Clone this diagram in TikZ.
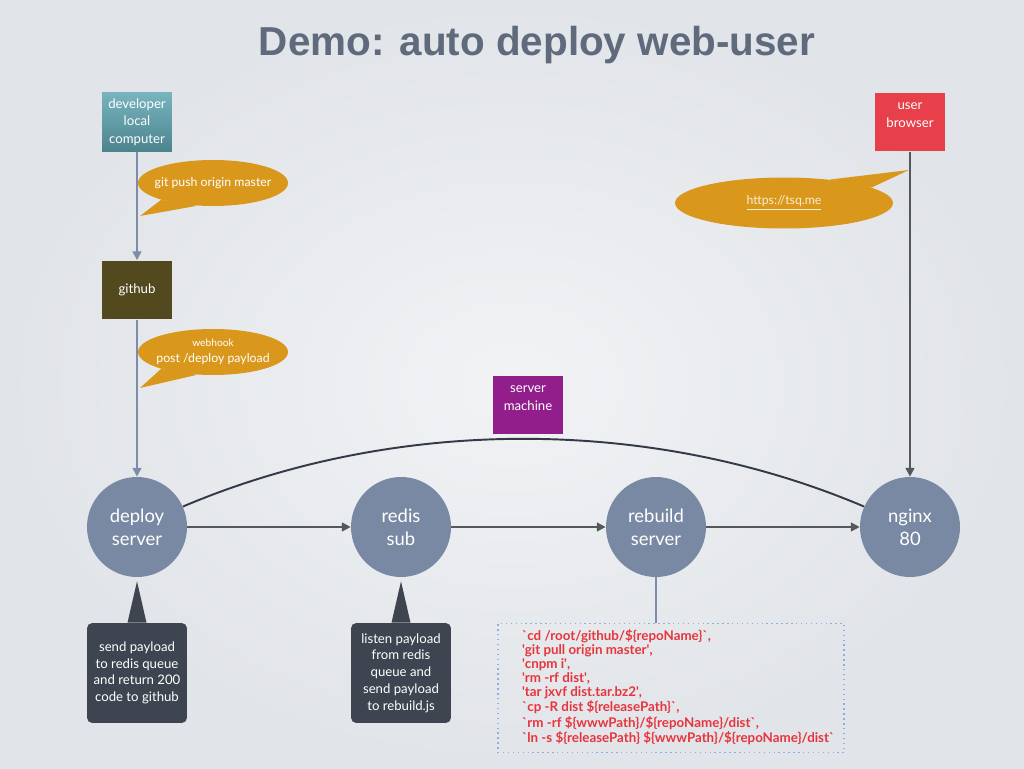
\documentclass[tikz,border=0pt]{standalone}
\usepackage{fontspec}
\setmainfont{Lato}
\newfontfamily\titlefont{Liberation Sans}
\usetikzlibrary{shapes.geometric,arrows.meta,calc}

\definecolor{bgin}{RGB}{241,243,245}
\definecolor{bgout}{RGB}{225,228,232}
\definecolor{titlecol}{RGB}{95,106,125}
\definecolor{devtop}{RGB}{120,180,190}
\definecolor{devbot}{RGB}{76,132,142}
\definecolor{gitcol}{RGB}{82,74,30}
\definecolor{bubblecol}{RGB}{217,152,28}
\definecolor{srvcol}{RGB}{122,137,163}
\definecolor{callcol}{RGB}{62,68,80}
\definecolor{machcol}{RGB}{146,30,140}
\definecolor{usercol}{RGB}{232,64,74}
\definecolor{feedcol}{RGB}{125,140,168}
\definecolor{flowcol}{RGB}{85,88,90}
\definecolor{curvecol}{RGB}{50,58,72}
\definecolor{codecol}{RGB}{232,52,60}
\definecolor{dotcol}{RGB}{140,175,222}
\definecolor{linkcol}{RGB}{250,236,205}

\newcommand{\bq}{\textasciigrave}
\newcommand{\sq}{\textquotesingle}

\tikzset{
	box/.style={minimum width=1.4cm, minimum height=1.18cm, inner sep=0pt, align=center,
		text=white, font=\fontsize{7.5}{10}\selectfont},
	bubble/.style={ellipse, fill=bubblecol, text=white, minimum width=3cm, minimum height=0.92cm,
		inner xsep=-0.4cm, inner ysep=0pt, align=center, font=\fontsize{7}{9}\selectfont},
	srv/.style={circle, fill=srvcol, minimum size=2cm, inner sep=0pt, align=center,
		text=white, font=\fontsize{10.5}{13}\selectfont},
	callout/.style={fill=callcol, rounded corners=3pt, minimum width=2cm, minimum height=2cm,
		inner sep=0pt, align=center, text=white, font=\fontsize{7.5}{9.5}\selectfont},
	feed/.style={-{Triangle[width=5pt,length=5pt]}, line width=1.1pt, draw=feedcol},
	flow/.style={-{Triangle[width=5pt,length=5pt]}, line width=1.1pt, draw=flowcol},
}

\begin{document}
\begin{tikzpicture}[x=0.02cm,y=0.02cm]
	
	% Nền
	\shade[inner color=bgin, outer color=bgout] (0,0) rectangle (1024,768);
	\useasboundingbox (0,0) rectangle (1024,768);
	
	% Tiêu đề
	\node[font=\fontsize{23}{27}\selectfont\titlefont\bfseries, text=titlecol] (title) at (537,723) {Demo: auto deploy web-user};
	
	% Các hộp
	\node[box, top color=devtop, bottom color=devbot] (dev) at (137,646) {developer\\local\\computer};
	\node[box, fill=gitcol] (github) at (137,478) {github};
	\node[box, fill=machcol] (machine) at (528,363) {server\\machine\\[-5pt]\strut};
	\node[box, fill=usercol] (user) at (910,646) {user\\browser\\[-5pt]\strut};
	
	% Các server
	\node[srv] (deploy) at (137,241) {deploy\\server};
	\node[srv] (redis) at (401,241) {redis\\sub};
	\node[srv] (rebuild) at (656,241) {rebuild\\server};
	\node[srv] (nginx) at (910,241) {nginx\\80};
	
	% Bong bóng
	\node[bubble] (push) at (213,585) {git push origin master};
	\coordinate (pushtip) at (140,552);
	\fill[bubblecol] (push.198) -- (pushtip) -- (push.235) -- cycle;
	
	\node[bubble] (hook) at (213,416) {{\fontsize{5.8}{7}\selectfont webhook}\\post /deploy payload};
	\coordinate (hooktip) at (140,380);
	\fill[bubblecol] (hook.198) -- (hooktip) -- (hook.235) -- cycle;
	
	\node[bubble, minimum width=4.36cm, minimum height=1.02cm, text=linkcol] (tsq) at (784,565) {\underline{https://tsq.me}};
	\coordinate (tsqtip) at (909,598);
	\fill[bubblecol] (tsq.27) -- (tsqtip) -- (tsq.10) -- cycle;
	
	% Mũi tên
	\draw[feed] (dev) -- (github);
	\draw[feed] (github) -- (deploy);
	\draw[flow] (user) -- (nginx);
	\draw[flow] (deploy) -- (redis);
	\draw[flow] (redis) -- (rebuild);
	\draw[flow] (rebuild) -- (nginx);
	\draw[curvecol, line width=1.1pt] (deploy.24) to[out=23, in=157, looseness=0.87] (nginx.156);
	
	% Chú thích
	\node[callout] (dcall) at (137,95) {send payload\\to redis queue\\and return 200\\code to github};
	\fill[callcol] ([xshift=-0.19cm]dcall.north) -- ([yshift=-0.08cm]deploy.south) -- ([xshift=0.19cm]dcall.north) -- cycle;
	\node[callout] (rcall) at (401,95) {listen payload\\from redis\\queue and\\send payload\\to rebuild.js};
	\fill[callcol] ([xshift=-0.19cm]rcall.north) -- ([yshift=-0.08cm]redis.south) -- ([xshift=0.19cm]rcall.north) -- cycle;
	
	% Lệnh rebuild
	\node[draw=dotcol, dotted, line width=0.8pt, minimum width=6.92cm, minimum height=2.58cm,
		inner sep=0pt, text=codecol, font=\fontsize{7.6}{7.9}\selectfont\bfseries] (code) at (671,80) {%
		\begin{tabular}{@{\hspace{0.48cm}}p{6.44cm}@{}}
		\bq cd /root/github/\$\{repoName\}\bq,\\
		\sq git pull origin master\sq,\\
		\sq cnpm i\sq,\\
		\sq rm -rf dist\sq,\\
		\sq tar jxvf dist.tar.bz2\sq,\\
		\bq cp -R dist \$\{releasePath\}\bq,\\
		\bq rm -rf \$\{wwwPath\}/\$\{repoName\}/dist\bq,\\
		\bq ln -s \$\{releasePath\} \$\{wwwPath\}/\$\{repoName\}/dist\bq
		\end{tabular}};
	\draw[feedcol, line width=1.1pt] (rebuild.south) -- (rebuild.south |- code.north);
	
\end{tikzpicture}
\end{document}
